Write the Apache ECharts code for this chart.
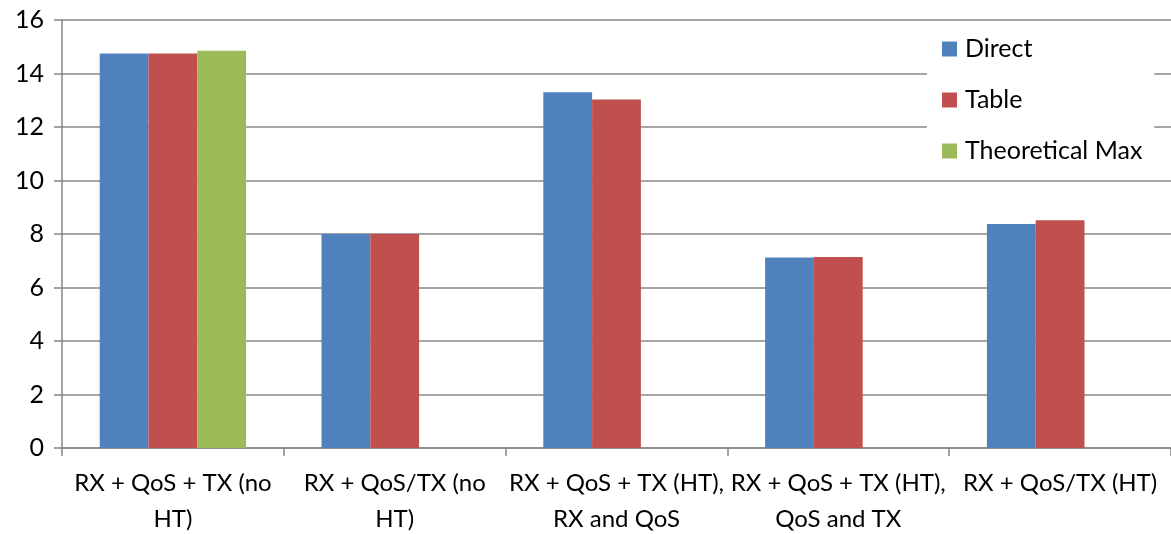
<!DOCTYPE html>
<html>
<head>
<meta charset="utf-8">
<script src="https://cdn.jsdelivr.net/npm/echarts@6/dist/echarts.min.js"></script>
<style>
  html, body { margin: 0; padding: 0; background: #fff; }
  #chart { width: 1171px; height: 534px; }
</style>
</head>
<body>
<div id="chart"></div>
<script>
// categories on the x axis
var categories = [
  'RX + QoS + TX (no\nHT)',
  'RX + QoS/TX (no\nHT)',
  'RX + QoS + TX (HT),\nRX and QoS',
  'RX + QoS + TX (HT),\nQoS and TX',
  'RX + QoS/TX (HT)'
];
var seriesNames = ['Direct', 'Table', 'Theoretical Max'];
var directData = [14.75, 8.0, 13.3, 7.12, 8.37];
var tableData = [14.75, 8.0, 13.03, 7.14, 8.51];
var theoreticalMaxData = [14.85, null, null, null, null];
var colors = ['#4f81bd', '#c0504d', '#9bbb59'];

var font = 'Lato';
var gridColor = '#878787';

var chart = echarts.init(document.getElementById('chart'));

var option = {
  animation: false,
  color: colors,
  textStyle: { fontFamily: font },
  grid: { left: 62, right: 0, top: 20, bottom: 86, containLabel: false, outerBoundsMode: 'none' },
  legend: {
    orient: 'vertical',
    left: 927,
    top: 21,
    padding: [15, 12, 15, 15],
    backgroundColor: '#fff',
    itemWidth: 15,
    itemHeight: 15,
    itemGap: 25,
    icon: 'rect',
    textStyle: { fontFamily: font, fontSize: 25, color: '#000', lineHeight: 26, padding: [0, 0, 0, 3] },
    data: seriesNames
  },
  xAxis: {
    type: 'category',
    data: categories,
    axisLine: { lineStyle: { color: gridColor, width: 1.5 } },
    axisTick: { show: true, length: 8, lineStyle: { color: gridColor, width: 1.5 } },
    axisLabel: { color: '#000', fontFamily: font, fontSize: 24, lineHeight: 36, margin: 17, interval: 0 },
    splitLine: { show: false }
  },
  yAxis: {
    type: 'value',
    min: 0,
    max: 16,
    interval: 2,
    axisLine: { show: true, lineStyle: { color: gridColor, width: 1.5 } },
    axisTick: { show: true, length: 8, lineStyle: { color: gridColor, width: 1.5 } },
    axisLabel: { color: '#000', fontFamily: font, fontSize: 25, margin: 18 },
    splitLine: { show: true, lineStyle: { color: gridColor, width: 1.5 } }
  },
  series: [
    { name: seriesNames[0], type: 'bar', data: directData, barGap: '0%', barCategoryGap: '34%', z: 3 },
    { name: seriesNames[1], type: 'bar', data: tableData, barGap: '0%', barCategoryGap: '34%', z: 3 },
    { name: seriesNames[2], type: 'bar', data: theoreticalMaxData, barGap: '0%', barCategoryGap: '34%', z: 3 }
  ]
};

chart.setOption(option);
</script>
</body>
</html>
